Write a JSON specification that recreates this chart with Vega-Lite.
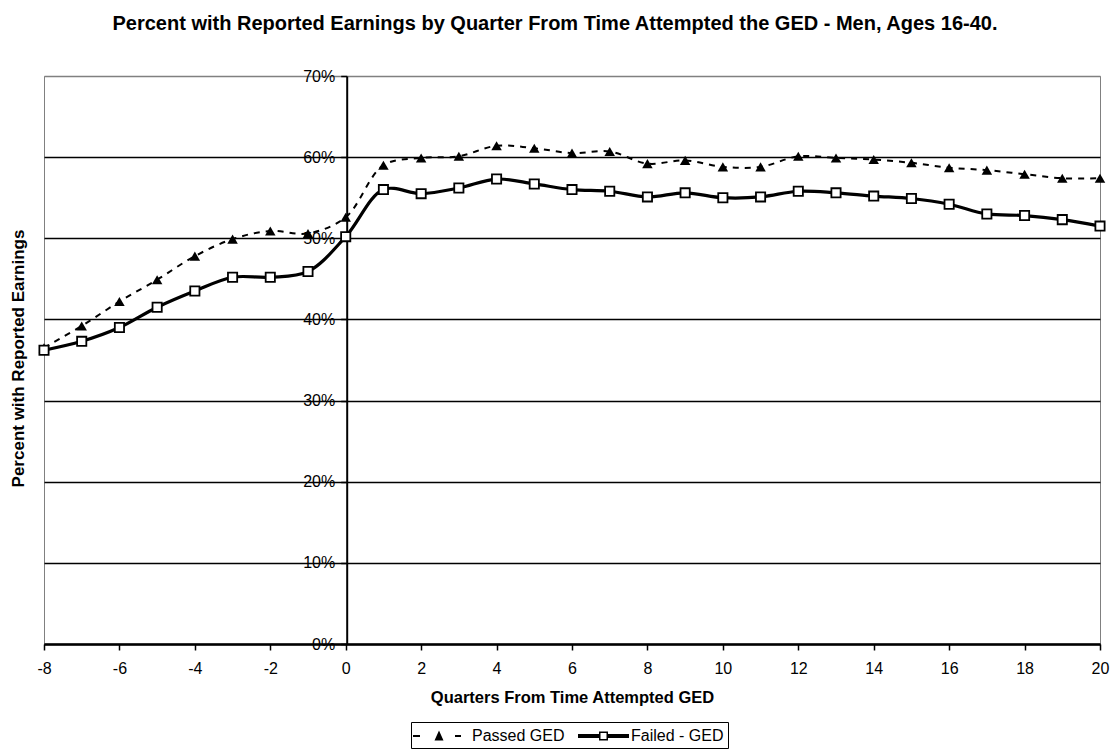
{
  "$schema": "https://vega.github.io/schema/vega-lite/v6.json",
  "width": 1056,
  "height": 568,
  "autosize": {"type": "none"},
  "padding": {"left": 44, "top": 76, "right": 15, "bottom": 109},
  "background": "white",
  "config": {
    "font": "Liberation Sans",
    "view": {"stroke": "#808080", "strokeWidth": 1}
  },
  "title": {
    "text": "Percent with Reported Earnings by Quarter From Time Attempted the GED - Men, Ages 16-40.",
    "font": "Liberation Sans",
    "fontSize": 20,
    "fontWeight": "bold",
    "color": "black",
    "anchor": "middle",
    "dx": -17,
    "offset": 34
  },
  "data": {
    "values": [
      {"quarter": -8, "series": "Passed GED", "pct": 0.365},
      {"quarter": -7, "series": "Passed GED", "pct": 0.392},
      {"quarter": -6, "series": "Passed GED", "pct": 0.422},
      {"quarter": -5, "series": "Passed GED", "pct": 0.449},
      {"quarter": -4, "series": "Passed GED", "pct": 0.478},
      {"quarter": -3, "series": "Passed GED", "pct": 0.499},
      {"quarter": -2, "series": "Passed GED", "pct": 0.509},
      {"quarter": -1, "series": "Passed GED", "pct": 0.506},
      {"quarter": 0, "series": "Passed GED", "pct": 0.526},
      {"quarter": 1, "series": "Passed GED", "pct": 0.590},
      {"quarter": 2, "series": "Passed GED", "pct": 0.599},
      {"quarter": 3, "series": "Passed GED", "pct": 0.601},
      {"quarter": 4, "series": "Passed GED", "pct": 0.614},
      {"quarter": 5, "series": "Passed GED", "pct": 0.611},
      {"quarter": 6, "series": "Passed GED", "pct": 0.605},
      {"quarter": 7, "series": "Passed GED", "pct": 0.607},
      {"quarter": 8, "series": "Passed GED", "pct": 0.592},
      {"quarter": 9, "series": "Passed GED", "pct": 0.596},
      {"quarter": 10, "series": "Passed GED", "pct": 0.588},
      {"quarter": 11, "series": "Passed GED", "pct": 0.588},
      {"quarter": 12, "series": "Passed GED", "pct": 0.601},
      {"quarter": 13, "series": "Passed GED", "pct": 0.599},
      {"quarter": 14, "series": "Passed GED", "pct": 0.597},
      {"quarter": 15, "series": "Passed GED", "pct": 0.593},
      {"quarter": 16, "series": "Passed GED", "pct": 0.587},
      {"quarter": 17, "series": "Passed GED", "pct": 0.584},
      {"quarter": 18, "series": "Passed GED", "pct": 0.579},
      {"quarter": 19, "series": "Passed GED", "pct": 0.574},
      {"quarter": 20, "series": "Passed GED", "pct": 0.574},
      {"quarter": -8, "series": "Failed - GED", "pct": 0.362},
      {"quarter": -7, "series": "Failed - GED", "pct": 0.373},
      {"quarter": -6, "series": "Failed - GED", "pct": 0.390},
      {"quarter": -5, "series": "Failed - GED", "pct": 0.415},
      {"quarter": -4, "series": "Failed - GED", "pct": 0.435},
      {"quarter": -3, "series": "Failed - GED", "pct": 0.452},
      {"quarter": -2, "series": "Failed - GED", "pct": 0.452},
      {"quarter": -1, "series": "Failed - GED", "pct": 0.459},
      {"quarter": 0, "series": "Failed - GED", "pct": 0.502},
      {"quarter": 1, "series": "Failed - GED", "pct": 0.560},
      {"quarter": 2, "series": "Failed - GED", "pct": 0.555},
      {"quarter": 3, "series": "Failed - GED", "pct": 0.562},
      {"quarter": 4, "series": "Failed - GED", "pct": 0.573},
      {"quarter": 5, "series": "Failed - GED", "pct": 0.567},
      {"quarter": 6, "series": "Failed - GED", "pct": 0.560},
      {"quarter": 7, "series": "Failed - GED", "pct": 0.558},
      {"quarter": 8, "series": "Failed - GED", "pct": 0.551},
      {"quarter": 9, "series": "Failed - GED", "pct": 0.556},
      {"quarter": 10, "series": "Failed - GED", "pct": 0.550},
      {"quarter": 11, "series": "Failed - GED", "pct": 0.551},
      {"quarter": 12, "series": "Failed - GED", "pct": 0.558},
      {"quarter": 13, "series": "Failed - GED", "pct": 0.556},
      {"quarter": 14, "series": "Failed - GED", "pct": 0.552},
      {"quarter": 15, "series": "Failed - GED", "pct": 0.549},
      {"quarter": 16, "series": "Failed - GED", "pct": 0.542},
      {"quarter": 17, "series": "Failed - GED", "pct": 0.530},
      {"quarter": 18, "series": "Failed - GED", "pct": 0.528},
      {"quarter": 19, "series": "Failed - GED", "pct": 0.523},
      {"quarter": 20, "series": "Failed - GED", "pct": 0.515}
    ]
  },
  "encoding": {
    "x": {
      "field": "quarter",
      "type": "quantitative",
      "scale": {"domain": [-8, 20], "nice": false, "zero": false},
      "axis": {
        "title": "Quarters From Time Attempted GED",
        "values": [-8, -6, -4, -2, 0, 2, 4, 6, 8, 10, 12, 14, 16, 18, 20],
        "labelExpr": "'' + datum.value",
        "grid": false,
        "domainColor": "black",
        "domainWidth": 2.5,
        "tickColor": "black",
        "tickWidth": 1.5,
        "tickSize": 6,
        "labelFontSize": 16,
        "labelColor": "black",
        "labelPadding": 10,
        "labelFlush": false,
        "titleFontSize": 16.5,
        "titleFontWeight": "bold",
        "titleColor": "black",
        "titlePadding": 13
      }
    },
    "y": {
      "field": "pct",
      "type": "quantitative",
      "scale": {"domain": [0, 0.7], "nice": false},
      "axis": {
        "title": "Percent with Reported Earnings",
        "format": ".0%",
        "values": [0, 0.1, 0.2, 0.3, 0.4, 0.5, 0.6, 0.7],
        "offset": -302.7,
        "grid": true,
        "gridColor": {"condition": {"test": "datum.value > 0.65", "value": "#808080"}, "value": "black"},
        "gridWidth": 1.6,
        "domainColor": "black",
        "domainWidth": 2,
        "tickColor": "black",
        "tickWidth": 1.5,
        "tickSize": 6,
        "labelFontSize": 16,
        "labelColor": "black",
        "labelPadding": 6,
        "labelFlush": false,
        "titleFontSize": 17,
        "titleFontWeight": "bold",
        "titleColor": "black",
        "titleAngle": -90,
        "titleAlign": "center",
        "titleBaseline": "middle",
        "titleX": -328.7,
        "titleY": 282
      }
    }
  },
  "layer": [
    {
      "transform": [{"filter": "datum.series === 'Passed GED'"}],
      "mark": {"type": "line", "color": "black", "strokeWidth": 2, "strokeDash": [6, 6], "interpolate": "catmull-rom"}
    },
    {
      "transform": [{"filter": "datum.series === 'Failed - GED'"}],
      "mark": {"type": "line", "color": "black", "strokeWidth": 3.2, "interpolate": "catmull-rom"}
    },
    {
      "transform": [{"filter": "datum.series === 'Passed GED'"}],
      "mark": {"type": "point", "shape": "triangle-up", "filled": true, "color": "black", "size": 110, "opacity": 1}
    },
    {
      "transform": [{"filter": "datum.series === 'Failed - GED'"}],
      "mark": {"type": "point", "shape": "square", "filled": true, "fill": "white", "stroke": "black", "strokeWidth": 1.8, "size": 85, "opacity": 1}
    },
    {
      "mark": {"type": "point", "opacity": 0, "filled": true, "color": "black", "strokeWidth": 0},
      "encoding": {
        "shape": {
          "field": "series",
          "type": "nominal",
          "scale": {
            "domain": ["Passed GED", "Failed - GED"],
            "range": [
              "M-1.2,-0.1H-0.5V0.1H-1.2Z M3.0,-0.1H3.6V0.1H3.0Z M0.95,0.45L1.4,-0.55L1.85,0.45Z",
              "M-0.6,-0.2H1.5V0.2H-0.6Z M2.4,-0.2H4.5V0.2H2.4Z M1.5,-0.45H2.4V0.45H1.5Z M1.65,-0.3V0.3H2.25V-0.3Z"
            ]
          },
          "legend": {
            "title": null,
            "orient": "none",
            "legendX": 367,
            "legendY": 646,
            "direction": "horizontal",
            "strokeColor": "black",
            "padding": 4,
            "symbolSize": 400,
            "symbolOpacity": 1,
            "symbolFillColor": "black",
            "symbolStrokeWidth": 0,
            "labelFont": "Liberation Sans",
            "labelFontSize": 16,
            "labelColor": "black",
            "labelOffset": 37,
            "columnPadding": 9
          }
        }
      }
    }
  ]
}
